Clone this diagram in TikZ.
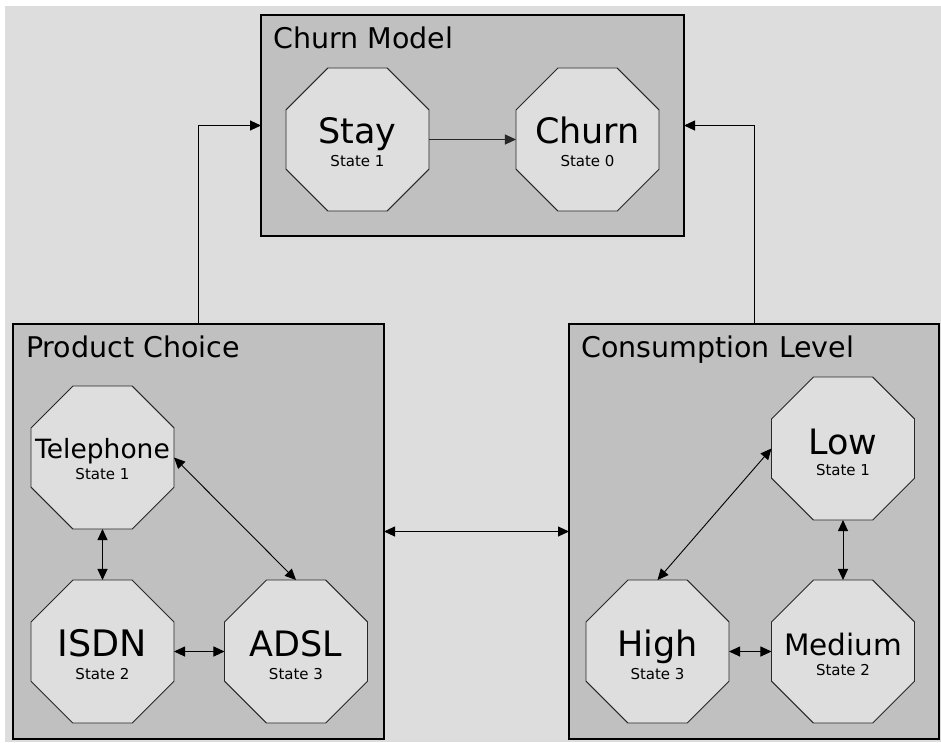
\documentclass[tikz,border=0pt]{standalone}
\usepackage{fontspec}
\setmainfont{DejaVu Sans}
\usetikzlibrary{shapes.geometric,arrows.meta}

\definecolor{canvas}{RGB}{221,221,221}
\definecolor{panel}{RGB}{192,192,192}
\definecolor{statefill}{RGB}{222,222,222}
\definecolor{stateline}{RGB}{40,40,40}

\tikzset{
  panelbox/.style={draw=black, line width=1.2pt, fill=panel, rectangle, inner sep=0pt, outer sep=0pt},
  octa/.style={regular polygon, regular polygon sides=8, minimum size=154.8pt, inner sep=0pt, outer sep=0pt,
               draw=stateline, line width=0.9pt, fill=statefill},
  paneltitle/.style={anchor=base west, inner sep=0pt, font=\fontsize{28.5}{32}\selectfont},
  bigname/.style={anchor=base, inner sep=0pt, font=\fontsize{35}{40}\selectfont},
  midname/.style={anchor=base, inner sep=0pt, font=\fontsize{26.5}{30}\selectfont},
  statenum/.style={anchor=base, inner sep=0pt, font=\fontsize{15}{17}\selectfont},
  link/.style={line width=0.9pt, draw=black, -{Triangle[length=11pt,width=10pt]}},
  twoway/.style={line width=0.9pt, draw=black, {Triangle[length=11pt,width=10pt]}-{Triangle[length=11pt,width=10pt]}}
}

\begin{document}
\begin{tikzpicture}[x=1pt, y=-1pt]
  \useasboundingbox (0,0) rectangle (941,742);
  \fill[white] (0,0) rectangle (941,742);
  \fill[canvas] (5,6) rectangle (941,742);

  % panels
  \node[panelbox, minimum width=423pt, minimum height=221pt] (cm) at (472.5,125.5) {};
  \node[panelbox, minimum width=371pt, minimum height=415pt] (pc) at (198.5,531.5) {};
  \node[panelbox, minimum width=370pt, minimum height=415pt] (cl) at (754,531.5) {};

  \node[paneltitle] (cmT) at (273,48.3) {Churn Model};
  \node[paneltitle] (pcT) at (26,357) {Product Choice};
  \node[paneltitle] (clT) at (581,357) {Consumption Level};

  % churn model states
  \node[octa] (stay) at (357.5,139.5) {};
  \node[octa] (churn) at (587.5,139.5) {};
  \node[bigname] (stayN) at (357.5,143) {Stay};
  \node[statenum] (stayS) at (357.5,166) {State 1};
  \node[bigname] (churnN) at (587.5,143) {Churn};
  \node[statenum] (churnS) at (587.5,166) {State 0};

  % product choice states
  \node[octa] (tel) at (102.5,457.5) {};
  \node[octa] (isdn) at (102.5,651.5) {};
  \node[octa] (adsl) at (296,651.5) {};
  \node[midname] (telN) at (102.5,458) {Telephone};
  \node[statenum] (telS) at (102.5,479) {State 1};
  \node[bigname, font=\fontsize{36.5}{40}\selectfont] (isdnN) at (102.5,656) {ISDN};
  \node[statenum] (isdnS) at (102.5,679) {State 2};
  \node[bigname] (adslN) at (296,656) {ADSL};
  \node[statenum] (adslS) at (296,679) {State 3};

  % consumption level states
  \node[octa] (low) at (843,448.5) {};
  \node[octa] (med) at (843,651.5) {};
  \node[octa] (high) at (657.5,651.5) {};
  \node[bigname] (lowN) at (843,454) {Low};
  \node[statenum] (lowS) at (843,475) {State 1};
  \node[midname, font=\fontsize{29.5}{32}\selectfont] (medN) at (843,655) {Medium};
  \node[statenum] (medS) at (843,675) {State 2};
  \node[bigname] (highN) at (657.5,656) {High};
  \node[statenum] (highS) at (657.5,679) {State 3};

  % transitions
  \draw[link, draw=stateline] (stay.east) -- (churn.west);
  \draw[twoway] (tel.south) -- (isdn.north);
  \draw[twoway] (isdn.east) -- (adsl.west);
  \draw[twoway] (tel.east) -- (adsl.north);
  \draw[twoway] (low.south) -- (med.north);
  \draw[twoway] (high.east) -- (med.west);
  \draw[twoway] (low.west) -- (high.north);

  % links between panels
  \draw[link] (pc.north) |- (cm.west);
  \draw[link] (cl.north) |- (cm.east);
  \draw[twoway] (pc.east) -- (cl.west);
\end{tikzpicture}
\end{document}
